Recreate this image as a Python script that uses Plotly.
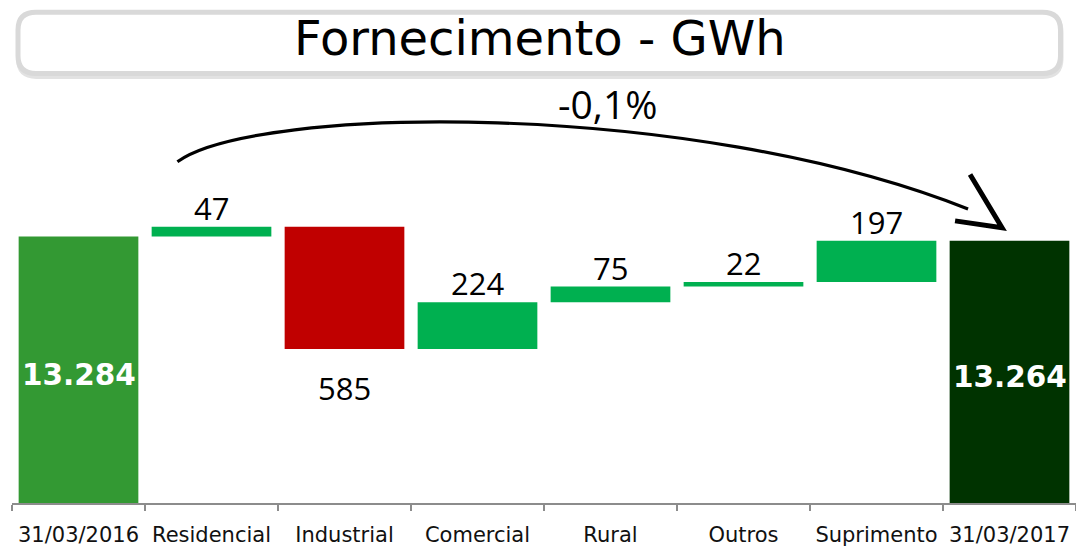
import plotly.graph_objects as go

categories = ["31/03/2016", "Residencial", "Industrial", "Comercial", "Rural", "Outros", "Suprimento", "31/03/2017"]
start_value = 13284
deltas = [47, -585, 224, 75, 22, 197]
end_value = 13264
start_label = "13.284"
end_label = "13.264"
delta_labels = ["47", "585", "224", "75", "22", "197"]
variation_label = "-0,1%"
title_text = "Fornecimento - GWh"

C_START = "#339933"
C_END = "#003300"
C_UP = "#00B050"
C_DOWN = "#C00000"

# page draws the figure with an 8px body margin; screen coordinates below are page pixels
OFF = 8
W, H = 1084 - OFF, 550 - OFF
PLOT_L, PLOT_R, PLOT_T, PLOT_B = 11.5, 1076, 140, 508  # screen px
ML = PLOT_L - OFF
MR = (W + OFF) - PLOT_R
MT = PLOT_T - OFF
MB = (H + OFF) - PLOT_B
Y_MIN, Y_MAX = 12010, 13746

fig = go.Figure()

fig.add_trace(go.Bar(x=[categories[0], categories[-1]], y=[start_value, end_value],
                     marker=dict(color=[C_START, C_END], line=dict(width=0)),
                     width=0.9, hoverinfo="skip"))

bases, colors = [], []
level = start_value
for d in deltas:
    bases.append(level)
    colors.append(C_UP if d >= 0 else C_DOWN)
    level += d
fig.add_trace(go.Bar(x=categories[1:-1], y=deltas, base=bases,
                     marker=dict(color=colors, line=dict(width=0)),
                     width=0.9, hoverinfo="skip"))

ann = []
for cat, val, lab in [(categories[0], start_value, start_label), (categories[-1], end_value, end_label)]:
    ann.append(dict(x=cat, y=(Y_MIN + val) / 2, xref="x", yref="y", text=f"<b>{lab}</b>",
                    showarrow=False, yshift=-5,
                    font=dict(family="DejaVu Sans", size=29.5, color="white")))
for cat, b, d, lab in zip(categories[1:-1], bases, deltas, delta_labels):
    if d >= 0:
        ann.append(dict(x=cat, y=b + d, xref="x", yref="y", text=lab, showarrow=False,
                        yanchor="bottom", yshift=-4,
                        font=dict(family="Open Sans", size=31, color="black")))
    else:
        ann.append(dict(x=cat, y=b + d, xref="x", yref="y", text=lab, showarrow=False,
                        yanchor="top", yshift=-16,
                        font=dict(family="Open Sans", size=31, color="black")))

pw = PLOT_R - PLOT_L
ph = PLOT_B - PLOT_T
def px(x):
    return (x - PLOT_L) / pw
def py(y):
    return (PLOT_B - y) / ph

ann.append(dict(x=px(540), y=py(36.5), xref="paper", yref="paper", text=title_text, showarrow=False,
                xanchor="center", yanchor="middle",
                font=dict(family="DejaVu Sans", size=48, color="black")))
ann.append(dict(x=px(607), y=py(103), xref="paper", yref="paper", text=variation_label, showarrow=False,
                xanchor="center", yanchor="middle",
                font=dict(family="Open Sans", size=39, color="black")))

def rounded(x0, y0, x1, y1, r):
    pts = [
        f"M {px(x0 + r)},{py(y0)}", f"L {px(x1 - r)},{py(y0)}",
        f"Q {px(x1)},{py(y0)} {px(x1)},{py(y0 + r)}", f"L {px(x1)},{py(y1 - r)}",
        f"Q {px(x1)},{py(y1)} {px(x1 - r)},{py(y1)}", f"L {px(x0 + r)},{py(y1)}",
        f"Q {px(x0)},{py(y1)} {px(x0)},{py(y1 - r)}", f"L {px(x0)},{py(y0 + r)}",
        f"Q {px(x0)},{py(y0)} {px(x0 + r)},{py(y0)}", "Z",
    ]
    return " ".join(pts)

shapes = [
    dict(type="path", xref="paper", yref="paper", path=rounded(18, 13, 1061, 75.5, 18),
         fillcolor="rgba(0,0,0,0)", line=dict(color="#e2e2e2", width=5), layer="below"),
    dict(type="path", xref="paper", yref="paper", path=rounded(17.5, 10.5, 1060.5, 72.5, 18),
         fillcolor="white", line=dict(color="#d9d9d9", width=5), layer="below"),
    dict(type="path", xref="paper", yref="paper",
         path=f"M {px(177)},{py(162)} C {px(255)},{py(105)} {px(690)},{py(98)} {px(968)},{py(210)}",
         line=dict(color="black", width=3.2)),
    dict(type="path", xref="paper", yref="paper",
         path=f"M {px(970)},{py(175)} L {px(1002)},{py(229)} L {px(955)},{py(222)}",
         line=dict(color="black", width=5)),
]

fig.update_layout(
    width=W, height=H,
    margin=dict(l=ML, r=MR, t=MT, b=MB, pad=0),
    paper_bgcolor="white", plot_bgcolor="white",
    showlegend=False, barmode="overlay", bargap=0.1,
    annotations=ann, shapes=shapes,
    xaxis=dict(type="category", categoryorder="array", categoryarray=categories,
               tickson="boundaries", ticks="outside", ticklen=6, tickcolor="#8c8c8c", tickwidth=1.5,
               showline=True, linecolor="#8c8c8c", linewidth=1.5, showgrid=False, zeroline=False,
               ticklabelstandoff=12,
               tickfont=dict(family="DejaVu Sans", size=21, color="#111111")),
    yaxis=dict(visible=False, range=[Y_MIN, Y_MAX], fixedrange=True),
)

fig.write_html("out.html")
